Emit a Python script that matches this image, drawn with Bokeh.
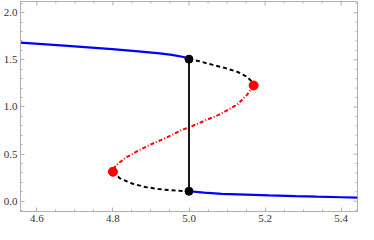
import math
from bokeh.plotting import figure
from bokeh.models import LinearAxis, FixedTicker, Range1d
from bokeh.embed import file_html
from bokeh.resources import INLINE

# Data
upper_stable_x = [4.557, 4.615, 4.672, 4.735, 4.798, 4.86, 4.923, 4.955, 4.986, 5.0]
upper_stable_y = [1.682, 1.667, 1.651, 1.633, 1.613, 1.592, 1.569, 1.553, 1.530, 1.507]

upper_unstable_x = [5.0, 5.028, 5.061, 5.094, 5.128, 5.153, 5.165, 5.170]
upper_unstable_y = [1.507, 1.484, 1.449, 1.415, 1.371, 1.320, 1.27, 1.228]

middle_x = [5.170, 5.153, 5.128, 5.103, 5.078, 5.053, 5.028, 5.004, 4.977, 4.952,
            4.927, 4.894, 4.865, 4.835, 4.818, 4.806, 4.800]
middle_y = [1.228, 1.131, 1.029, 0.971, 0.916, 0.875, 0.831, 0.790, 0.749, 0.697,
            0.651, 0.592, 0.533, 0.465, 0.413, 0.37, 0.313]

lower_unstable_x = [4.800, 4.818, 4.852, 4.885, 4.919, 4.952, 4.977, 5.0]
lower_unstable_y = [0.313, 0.243, 0.185, 0.151, 0.130, 0.116, 0.110, 0.106]

lower_stable_x = [5.0, 5.04, 5.086, 5.15, 5.211, 5.28, 5.336, 5.40, 5.443]
lower_stable_y = [0.106, 0.092, 0.079, 0.070, 0.062, 0.054, 0.048, 0.042, 0.038]

jump_x = [5.0, 5.0]
jump_y = [0.106, 1.507]

black_pts_x = [5.0, 5.0]
black_pts_y = [1.507, 0.106]
red_pts_x = [5.170, 4.800]
red_pts_y = [1.228, 0.313]

x_major = [4.6, 4.8, 5.0, 5.2, 5.4]
x_minor = [4.65, 4.7, 4.75, 4.85, 4.9, 4.95, 5.05, 5.1, 5.15, 5.25, 5.3, 5.35]
y_major = [0.0, 0.5, 1.0, 1.5, 2.0]
y_minor = [-0.1, 0.1, 0.2, 0.3, 0.4, 0.6, 0.7, 0.8, 0.9, 1.1, 1.2,
           1.3, 1.4, 1.6, 1.7, 1.8, 1.9, 2.1]
x_lo, x_hi = 4.557, 5.443
y_lo, y_hi = -0.109, 2.119

FONT = "serif"
GRAY = "#b0b0b0"

p = figure(width=358, height=224, output_backend="svg", toolbar_location=None,
           x_range=Range1d(x_lo, x_hi), y_range=Range1d(y_lo, y_hi),
           x_axis_location=None, y_axis_location=None)
p.min_border = 0
p.min_border_left = 0
p.min_border_right = 1
p.min_border_top = 1
p.min_border_bottom = 0
p.outline_line_color = GRAY
p.outline_line_width = 1
p.xgrid.visible = False
p.ygrid.visible = False
p.background_fill_color = "white"
p.border_fill_color = "white"


def style(ax):
    ax.axis_label = None
    ax.axis_line_color = GRAY
    ax.major_tick_line_color = GRAY
    ax.minor_tick_line_color = GRAY
    ax.major_tick_in = 4
    ax.major_tick_out = 0
    ax.minor_tick_in = 2
    ax.minor_tick_out = 0
    ax.major_label_text_font = FONT
    ax.major_label_text_color = "#333333"
    ax.major_label_text_font_size = "11px"
    ax.major_label_standoff = 3
    ax.axis_label_standoff = 0


xax = LinearAxis(ticker=FixedTicker(ticks=x_major, minor_ticks=x_minor))
style(xax)
xax.major_label_overrides = {v: f"{v:.1f}" for v in x_major}
p.add_layout(xax, "below")

yax = LinearAxis(ticker=FixedTicker(ticks=y_major, minor_ticks=y_minor))
style(yax)
yax.major_label_overrides = {v: f"{v:.1f}" for v in y_major}
p.add_layout(yax, "left")

# mirrored ticks on top and right edges
p.ray(x=x_major, y=[y_hi] * len(x_major), length=4, length_units="screen",
      angle=-math.pi / 2, line_color=GRAY, line_width=1)
p.ray(x=x_minor, y=[y_hi] * len(x_minor), length=2, length_units="screen",
      angle=-math.pi / 2, line_color=GRAY, line_width=1)
p.ray(x=[x_hi] * len(y_major), y=y_major, length=4, length_units="screen",
      angle=math.pi, line_color=GRAY, line_width=1)
p.ray(x=[x_hi] * len(y_minor), y=y_minor, length=2, length_units="screen",
      angle=math.pi, line_color=GRAY, line_width=1)

p.line(upper_stable_x, upper_stable_y, line_color="#0000ff", line_width=2.2)
p.line(lower_stable_x, lower_stable_y, line_color="#0000ff", line_width=2.2)
p.line(upper_unstable_x, upper_unstable_y, line_color="black", line_width=2,
       line_dash="4 3")
p.line(lower_unstable_x, lower_unstable_y, line_color="black", line_width=2,
       line_dash="4 3")
p.line(middle_x, middle_y, line_color="#ff0000", line_width=2,
       line_dash="4 2 1 2")
p.line(jump_x, jump_y, line_color="black", line_width=1.8)
p.scatter(black_pts_x, black_pts_y, size=8, color="black")
p.scatter(red_pts_x, red_pts_y, size=9, color="#ff0000")

open("out.html", "w").write(file_html(p, INLINE))
